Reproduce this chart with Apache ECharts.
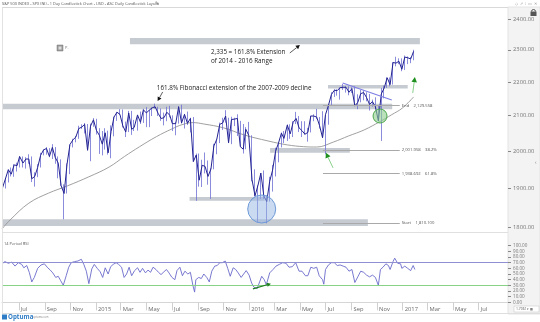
<!DOCTYPE html>
<html>
<head>
<meta charset="utf-8">
<script src="https://cdn.jsdelivr.net/npm/echarts@6/dist/echarts.min.js"></script>
<style>
  html, body { margin: 0; padding: 0; background: #fff; }
  #chart { width: 540px; height: 322px; }
</style>
</head>
<body>
<div id="chart"></div>
<script>
// ---- S&P 500 weekly bars (Friday of each week): [open, close, low, high] ----
const weekDates = [
  // 2014
  '2014-05-23','2014-05-30','2014-06-06','2014-06-13','2014-06-20','2014-06-27','2014-07-03','2014-07-11',
  '2014-07-18','2014-07-25','2014-08-01','2014-08-08','2014-08-15','2014-08-22','2014-08-29','2014-09-05',
  '2014-09-12','2014-09-19','2014-09-26','2014-10-03','2014-10-10','2014-10-17','2014-10-24','2014-10-31',
  '2014-11-07','2014-11-14','2014-11-21','2014-11-28','2014-12-05','2014-12-12','2014-12-19','2014-12-26',
  // 2015
  '2015-01-02','2015-01-09','2015-01-16','2015-01-23','2015-01-30','2015-02-06','2015-02-13','2015-02-20',
  '2015-02-27','2015-03-06','2015-03-13','2015-03-20','2015-03-27','2015-04-02','2015-04-10','2015-04-17',
  '2015-04-24','2015-05-01','2015-05-08','2015-05-15','2015-05-22','2015-05-29','2015-06-05','2015-06-12',
  '2015-06-19','2015-06-26','2015-07-02','2015-07-10','2015-07-17','2015-07-24','2015-07-31','2015-08-07',
  '2015-08-14','2015-08-21','2015-08-28','2015-09-04','2015-09-11','2015-09-18','2015-09-25','2015-10-02',
  '2015-10-09','2015-10-16','2015-10-23','2015-10-30','2015-11-06','2015-11-13','2015-11-20','2015-11-27',
  '2015-12-04','2015-12-11','2015-12-18','2015-12-24','2015-12-31',
  // 2016
  '2016-01-08','2016-01-15','2016-01-22','2016-01-29','2016-02-05','2016-02-12','2016-02-19','2016-02-26',
  '2016-03-04','2016-03-11','2016-03-18','2016-03-24','2016-04-01','2016-04-08','2016-04-15','2016-04-22',
  '2016-04-29','2016-05-06','2016-05-13','2016-05-20','2016-05-27','2016-06-03','2016-06-10','2016-06-17',
  '2016-06-24','2016-07-01','2016-07-08','2016-07-15','2016-07-22','2016-07-29','2016-08-05','2016-08-12',
  '2016-08-19','2016-08-26','2016-09-02','2016-09-09','2016-09-16','2016-09-23','2016-09-30','2016-10-07',
  '2016-10-14','2016-10-21','2016-10-28','2016-11-04','2016-11-11','2016-11-18','2016-11-25','2016-12-02',
  '2016-12-09','2016-12-16','2016-12-23','2016-12-30',
  // 2017
  '2017-01-06','2017-01-13','2017-01-20','2017-01-27'
];

const weeklyBars = [
  // 2014
  [1880,1900,1868,1901],[1900,1924,1899,1924],[1923,1949,1915,1950],[1950,1937,1931,1955],
  [1937,1962,1930,1964],[1962,1960,1944,1968],[1960,1985,1955,1985],[1985,1967,1955,1985],
  [1967,1978,1952,1983],[1978,1978,1965,1991],[1978,1925,1916,1985],[1925,1931,1904,1942],
  [1931,1955,1929,1964],[1955,1988,1955,1995],[1988,2003,1988,2005],[2003,2007,1990,2011],
  [2007,1985,1983,2008],[1985,2010,1978,2019],[2010,1982,1965,2011],[1982,1967,1926,1985],
  [1967,1906,1906,1977],[1906,1886,1820,1910],[1886,1964,1886,1966],[1964,2018,1937,2018],
  [2018,2031,2010,2034],[2031,2039,2024,2042],[2039,2063,2034,2071],[2063,2067,2062,2075],
  [2067,2075,2049,2079],[2075,2002,2002,2076],[2002,2070,1972,2077],[2070,2088,2068,2093],
  // 2015
  [2088,2058,2046,2091],[2058,2044,1992,2064],[2044,2019,1988,2056],[2019,2051,2004,2064],
  [2051,1995,1990,2057],[1995,2055,1980,2072],[2055,2096,2041,2097],[2096,2110,2085,2111],
  [2110,2104,2102,2119],[2104,2071,2066,2118],[2071,2053,2039,2083],[2053,2108,2053,2114],
  [2108,2061,2045,2114],[2061,2066,2056,2088],[2066,2102,2057,2103],[2102,2081,2076,2112],
  [2081,2117,2079,2120],[2117,2108,2067,2125],[2108,2116,2067,2117],[2116,2123,2099,2124],
  [2123,2126,2121,2135],[2126,2107,2099,2126],[2107,2092,2085,2121],[2092,2094,2072,2109],
  [2094,2110,2084,2126],[2110,2101,2095,2129],[2101,2077,2056,2101],[2077,2077,2044,2081],
  [2077,2126,2077,2128],[2126,2079,2077,2132],[2079,2104,2063,2105],[2104,2078,2073,2112],
  [2078,2092,2052,2094],[2092,1971,1971,2096],[1971,1989,1867,1993],[1989,1921,1904,1993],
  [1921,1961,1903,1976],[1961,1958,1939,1996],[1958,1931,1909,1974],[1931,1951,1872,1953],
  [1951,2014,1950,2020],[2014,2033,1991,2034],[2033,2075,2022,2080],[2075,2079,2059,2094],
  [2079,2099,2080,2116],[2099,2023,2022,2094],[2023,2089,2019,2097],[2089,2090,2070,2094],
  [2090,2092,2042,2104],[2092,2012,2011,2085],[2012,2005,1993,2076],[2005,2061,2005,2067],
  [2061,2044,2044,2082],
  // 2016
  [2044,1922,1918,2044],[1922,1880,1878,1950],[1880,1907,1812,1908],[1907,1940,1872,1940],
  [1940,1880,1872,1947],[1880,1865,1810,1881],[1865,1918,1865,1930],[1918,1948,1891,1962],
  [1948,1999,1931,2009],[1999,2022,1969,2022],[2022,2050,2010,2052],[2050,2035,2022,2056],
  [2035,2073,2028,2075],[2073,2048,2034,2075],[2048,2081,2039,2084],[2081,2092,2076,2111],
  [2092,2065,2053,2099],[2065,2057,2039,2084],[2057,2047,2045,2084],[2047,2052,2026,2065],
  [2052,2099,2052,2100],[2099,2099,2084,2104],[2099,2096,2090,2120],[2096,2071,2063,2096],
  [2071,2037,2037,2113],[2037,2103,1991,2104],[2103,2130,2074,2131],[2130,2162,2130,2169],
  [2162,2175,2155,2178],[2175,2174,2159,2178],[2174,2183,2147,2184],[2183,2184,2176,2194],
  [2184,2184,2168,2187],[2184,2169,2160,2187],[2169,2180,2167,2184],[2180,2128,2128,2187],
  [2128,2139,2119,2163],[2139,2165,2139,2176],[2165,2168,2145,2175],[2168,2153,2142,2169],
  [2153,2133,2115,2164],[2133,2141,2126,2147],[2141,2126,2119,2154],[2126,2085,2084,2131],
  [2085,2164,2028,2182],[2164,2182,2151,2189],[2182,2213,2182,2214],[2213,2192,2187,2214],
  [2192,2260,2192,2261],[2260,2258,2248,2278],[2258,2264,2255,2273],[2264,2239,2233,2273],
  // 2017
  [2239,2277,2237,2282],[2277,2275,2255,2279],[2275,2271,2258,2277],[2271,2295,2267,2300]
];

// ---- 200-day moving average ----
const maDates = ['2014-05-22','2014-06-10','2014-07-25','2014-09-10','2014-10-25','2014-12-15','2015-02-01',
  '2015-03-10','2015-04-15','2015-05-25','2015-07-01','2015-07-25','2015-08-20','2015-09-15','2015-11-01',
  '2015-12-20','2016-02-15','2016-04-01','2016-05-10','2016-06-10','2016-07-20','2016-08-25','2016-10-01',
  '2016-11-08','2016-12-06','2016-12-31','2017-01-27'];
const maValues = [1796,1818,1861,1887,1906,1930,1956,1985,2012,2040,2062,2074,2080,2076,2065,2045,2028,
  2017,2012,2011,2025,2042,2059,2083,2103,2122,2155];

// ---- 14 period RSI ----
const rsiDates = ['2014-05-22','2014-05-29','2014-06-06','2014-06-14','2014-06-22','2014-06-30','2014-07-08',
  '2014-07-13','2014-07-20','2014-07-26','2014-08-01','2014-08-07','2014-08-15','2014-08-23','2014-08-31',
  '2014-09-08','2014-09-14','2014-09-20','2014-09-27','2014-10-03','2014-10-09','2014-10-15','2014-10-22',
  '2014-10-28','2014-11-03','2014-11-11','2014-11-19','2014-11-27','2014-12-03','2014-12-09','2014-12-15',
  '2014-12-22','2014-12-28','2015-01-04','2015-01-11','2015-01-17','2015-01-23','2015-01-30','2015-02-05',
  '2015-02-11','2015-02-18','2015-02-24','2015-03-03','2015-03-09','2015-03-15','2015-03-21','2015-03-27',
  '2015-04-03','2015-04-10','2015-04-16','2015-04-22','2015-04-29','2015-05-05','2015-05-11','2015-05-17',
  '2015-05-24','2015-05-30','2015-06-05','2015-06-12','2015-06-18','2015-06-24','2015-07-01','2015-07-08',
  '2015-07-13','2015-07-20','2015-07-26','2015-08-01','2015-08-08','2015-08-14','2015-08-20','2015-08-24',
  '2015-08-27','2015-09-03','2015-09-09','2015-09-15','2015-09-22','2015-09-28','2015-10-04','2015-10-11',
  '2015-10-17','2015-10-23','2015-10-29','2015-11-05','2015-11-11','2015-11-17','2015-11-24','2015-11-30',
  '2015-12-06','2015-12-13','2015-12-19','2015-12-25','2016-01-01','2016-01-07','2016-01-12','2016-01-20',
  '2016-01-26','2016-01-31','2016-02-06','2016-02-11','2016-02-19','2016-02-27','2016-03-05','2016-03-13',
  '2016-03-21','2016-03-29','2016-04-05','2016-04-13','2016-04-21','2016-04-29','2016-05-06','2016-05-14',
  '2016-05-20','2016-05-27','2016-06-03','2016-06-10','2016-06-16','2016-06-24','2016-06-27','2016-07-01',
  '2016-07-08','2016-07-15','2016-07-22','2016-07-29','2016-08-05','2016-08-12','2016-08-19','2016-08-26',
  '2016-09-02','2016-09-09','2016-09-16','2016-09-23','2016-09-30','2016-10-07','2016-10-14','2016-10-21',
  '2016-10-28','2016-11-04','2016-11-09','2016-11-15','2016-11-22','2016-11-28','2016-12-02','2016-12-09',
  '2016-12-13','2016-12-20','2016-12-27','2016-12-30','2017-01-06','2017-01-13','2017-01-20','2017-01-26',
  '2017-01-30'];
const rsiValues = [68,72,69,71,64,70,67,61,65,53,36,44,60,66,68,61,57,52,44,46,38,30,47,62,70,72,73,76,67,55,33,
  59,67,60,54,44,61,50,63,67,70,67,62,44,50,62,47,56,61,53,60,52,57,53,62,58,53,49,54,58,52,44,40,56,62,47,55,
  50,53,30,18,40,44,42,50,44,36,55,64,65,70,70,73,60,46,61,58,52,44,50,56,48,34,27,24,36,46,40,31,52,58,64,67,
  70,69,62,63,70,55,55,47,47,62,60,62,47,40,32,58,66,70,70,65,66,64,62,55,58,35,45,55,53,48,45,48,44,30,58,62,
  68,65,58,72,78,69,68,60,64,60,56,65,58];
const rsiLevels = [70, 30];

// ---- axis ticks ----
const priceTicks = [1800, 1900, 2000, 2100, 2200, 2300, 2400];
const rsiTicks = [0, 10, 20, 30, 40, 50, 60, 70, 80, 90, 100];
const xTickDates = ['2014-07-01','2014-09-01','2014-11-01','2015-01-01','2015-03-01','2015-05-01','2015-07-01',
  '2015-09-01','2015-11-01','2016-01-01','2016-03-01','2016-05-01','2016-07-01','2016-09-01','2016-11-01',
  '2017-01-01','2017-03-01','2017-05-01','2017-07-01'];
const xTickLabels = ['Jul','Sep','Nov','2015','Mar','May','Jul','Sep','Nov','2016','Mar','May','Jul','Sep','Nov',
  '2017','Mar','May','Jul'];

// ---- support / resistance zones: [from, to, low, high] ----
const zoneFrom = ['2015-03-23','2014-05-22','2016-07-07','2016-02-20','2015-08-12','2014-05-22'];
const zoneTo   = ['2017-02-11','2016-12-07','2017-01-13','2016-08-28','2016-02-07','2016-10-10'];
const zoneLow  = [2318, 2119, 2180, 1995, 1867, 1803];
const zoneHigh = [2338, 2135, 2191, 2008, 1877, 1820];

// ---- Fibonacci levels ----
const fibValues = [2129.558, 2001.958, 1938.692, 1810.100];
const fibNames  = ['End', '2,001.958', '1,938.692', 'Start'];
const fibTags   = ['2,129.558', '38.2%', '61.8%', '1,810.100'];
const fibFrom = '2016-06-25', fibTo = '2016-12-25';

// ---- 2016 down-trend line ----
const trendDates = ['2016-08-11', '2016-12-06'];
const trendValues = [2197, 2146];

const X_START = '2014-05-22', X_END = '2017-09-09';
const FONT = '"Open Sans", "Noto Sans", sans-serif';

// dates become UTC timestamps on a plain value axis
const ts = s => Date.parse(s + 'T00:00:00Z');
const tickTimes = xTickDates.map(ts);

const candles = weekDates.map((d, i) => [ts(d)].concat(weeklyBars[i]));
const closes = weekDates.map((d, i) => [ts(d), weeklyBars[i][1]]);
const ma = maDates.map((d, i) => [ts(d), maValues[i]]);
const rsi = rsiDates.map((d, i) => [ts(d), rsiValues[i]]);

const chart = echarts.init(document.getElementById('chart'));

const option = {
  animation: false,
  textStyle: { fontFamily: FONT },
  grid: [
    { left: 2, right: 32, top: 8, height: 222 },
    { left: 2, right: 32, top: 236, height: 66.3 }
  ],
  xAxis: [
    { type: 'value', gridIndex: 0, min: ts(X_START), max: ts(X_END), scale: true,
      axisLine: { show: false }, axisTick: { show: false }, axisLabel: { show: false }, splitLine: { show: false } },
    { type: 'value', gridIndex: 1, min: ts(X_START), max: ts(X_END), scale: true,
      axisLine: { show: true, onZero: false, lineStyle: { color: '#d6d6d6', width: 1 } },
      axisTick: { show: true, customValues: tickTimes, length: 8, lineStyle: { color: '#d0d0d0' } },
      axisLabel: { customValues: tickTimes, align: 'left', margin: 4, padding: [0, 0, 0, 2],
        color: '#6a6a6a', fontSize: 5.8, fontFamily: FONT,
        formatter: v => { const k = tickTimes.indexOf(+v); return k >= 0 ? xTickLabels[k] : ''; } },
      splitLine: { show: false } }
  ],
  yAxis: [
    { type: 'log', logBase: 10, gridIndex: 0, position: 'right', min: 1793.3, max: 2436.7,
      axisLine: { show: false },
      axisTick: { show: true, customValues: priceTicks, length: 3, lineStyle: { color: '#888' } },
      axisLabel: { customValues: priceTicks, margin: 5, color: '#777', fontSize: 5.8, fontFamily: FONT,
        formatter: v => Number(v).toFixed(2) },
      splitLine: { show: false } },
    { type: 'value', gridIndex: 1, position: 'right', min: 0, max: 117.2,
      axisLine: { show: false },
      axisTick: { show: true, customValues: rsiTicks, length: 3, lineStyle: { color: '#888' } },
      axisLabel: { customValues: rsiTicks, margin: 5, color: '#777', fontSize: 4.6, fontFamily: FONT,
        formatter: v => Number(v).toFixed(2) },
      splitLine: { show: false } }
  ],
  series: [
    {
      name: 'SPX', type: 'candlestick', xAxisIndex: 0, yAxisIndex: 0, data: candles,
      barWidth: 1.2,
      itemStyle: { color: '#6f6fd4', color0: '#6f6fd4', borderColor: '#6f6fd4', borderColor0: '#6f6fd4', borderWidth: 0.8 },
      markArea: {
        silent: true,
        itemStyle: { color: '#c6cbd2' },
        data: zoneFrom.map((f, i) => [
          { coord: [ts(f), zoneLow[i]] },
          { coord: [ts(zoneTo[i]), zoneHigh[i]] }
        ])
      },
      markLine: {
        silent: true, symbol: ['none', 'none'],
        lineStyle: { color: '#a9a9a9', width: 1, type: 'solid' },
        label: { show: true, position: 'end', distance: 2, color: '#555', fontSize: 4.2, fontFamily: FONT },
        data: fibValues.map((v, i) => [
          { coord: [ts(fibFrom), v],
            label: { formatter: fibNames[i] + '    ' + fibTags[i] } },
          { coord: [ts(fibTo), v] }
        ]).concat([[
          { coord: [ts(trendDates[0]), trendValues[0]], lineStyle: { color: '#7d7de4', width: 1.1 }, label: { show: false } },
          { coord: [ts(trendDates[1]), trendValues[1]] }
        ]])
      }
    },
    {
      name: 'Close', type: 'line', xAxisIndex: 0, yAxisIndex: 0, data: closes,
      showSymbol: false, lineStyle: { color: '#23238f', width: 1 }, z: 3
    },
    {
      name: 'MA200', type: 'line', xAxisIndex: 0, yAxisIndex: 0, data: ma, smooth: 0.4,
      showSymbol: false, lineStyle: { color: '#959595', width: 0.9 }, z: 2
    },
    {
      name: 'RSI', type: 'line', xAxisIndex: 1, yAxisIndex: 1, data: rsi,
      showSymbol: false, lineStyle: { color: '#6a6acb', width: 0.9 },
      markLine: {
        silent: true, symbol: ['none', 'none'], label: { show: false },
        data: [
          { yAxis: rsiLevels[0], lineStyle: { color: '#8f8fd2', width: 1, type: 'solid' } },
          { yAxis: rsiLevels[1], lineStyle: { color: '#86d286', width: 1, type: 'solid' } }
        ]
      }
    }
  ]
};

chart.setOption(option);

// ---- annotations placed in data space ----
const P = (d, v) => chart.convertToPixel({ xAxisIndex: 0, yAxisIndex: 0 }, [ts(d), v]);
const R = (d, v) => chart.convertToPixel({ xAxisIndex: 1, yAxisIndex: 1 }, [ts(d), v]);

function arrow(p1, p2, lineColor, headColor, lw, head) {
  const dx = p2[0] - p1[0], dy = p2[1] - p1[1];
  const L = Math.hypot(dx, dy), ux = dx / L, uy = dy / L;
  const bx = p2[0] - ux * head, by = p2[1] - uy * head;
  const px = -uy * head * 0.55, py = ux * head * 0.55;
  return [
    { type: 'line', z: 100, shape: { x1: p1[0], y1: p1[1], x2: bx, y2: by }, style: { stroke: lineColor, lineWidth: lw } },
    { type: 'polygon', z: 100, shape: { points: [[p2[0], p2[1]], [bx + px, by + py], [bx - px, by - py]] }, style: { fill: headColor } }
  ];
}

function text(x, y, str, size, color, align, weight) {
  return { type: 'text', z: 100, x: x, y: y,
    style: { text: str, fontSize: size, fill: color, fontFamily: FONT, fontWeight: weight || 'normal',
      verticalAlign: 'middle', align: align || 'left' } };
}

const blueC = P('2016-01-31', 1846);
const greenC = P('2016-11-08', 2099);
const t1 = P('2015-10-02', 2293);
const t2 = P('2015-10-02', 2265);
const t3 = P('2015-05-26', 2180);

const elements = [
  // chrome: right axis strip and panel frames
  { type: 'rect', z: -10, shape: { x: 508, y: 7, width: 32, height: 307 }, style: { fill: '#f3f3f3', stroke: '#dedede', lineWidth: 0.8 } },
  { type: 'line', z: 50, shape: { x1: 2, y1: 7.5, x2: 508, y2: 7.5 }, style: { stroke: '#d9d9d9', lineWidth: 1 } },
  { type: 'line', z: 50, shape: { x1: 2.5, y1: 7.5, x2: 2.5, y2: 313 }, style: { stroke: '#e2e2e2', lineWidth: 1 } },
  { type: 'line', z: 50, shape: { x1: 2, y1: 232.5, x2: 508, y2: 232.5 }, style: { stroke: '#e0e0e0', lineWidth: 1 } },
  { type: 'line', z: 50, shape: { x1: 2, y1: 313.5, x2: 540, y2: 313.5 }, style: { stroke: '#dedede', lineWidth: 1 } },

  text(2, 3.8, 'S&P 500 INDEX - SPX (NI) - 1 Day Candlestick Chart - USD - ASC Daily Candlestick Layout', 3.9, '#555'),
  text(155, 3.6, '✎', 4.5, '#666'),
  text(537, 3.6, '◇  ⇗  ⁞  ▭  ✕', 3.9, '#999', 'right'),

  // lock icon
  { type: 'rect', z: 100, shape: { x: 530.5, y: 11.5, width: 6, height: 4.5 }, style: { fill: '#555' } },
  { type: 'arc', z: 100, shape: { cx: 533.5, cy: 11.5, r: 2, startAngle: Math.PI, endAngle: 2 * Math.PI }, style: { stroke: '#555', lineWidth: 1, fill: 'none' } },
  text(535, 163, '‹', 5, '#777'),

  // small tool icon
  { type: 'rect', z: 100, shape: { x: 57, y: 45, width: 6, height: 6 }, style: { fill: '#9a9a9a', stroke: '#777', lineWidth: 0.5 } },
  { type: 'rect', z: 100, shape: { x: 58.5, y: 46.5, width: 3, height: 3 }, style: { fill: '#dcdcdc' } },
  text(65, 48, 'P.', 4, '#777'),

  // RSI panel title
  text(4, 243.5, '14 Period RSI', 4, '#555'),

  // bottom right scale box
  { type: 'rect', z: 100, shape: { x: 514, y: 306, width: 25, height: 6 }, style: { fill: '#fff', stroke: '#cfcfcf', lineWidth: 0.6 } },
  text(516, 309, '1.7061 ▾ ▦', 3.4, '#555'),

  // logo
  { type: 'rect', z: 100, shape: { x: 2, y: 314.5, width: 5, height: 5 }, style: { fill: '#2f7cc6' } },
  text(8, 317.3, 'Optuma', 6.2, '#2f7cc6', 'left', 'bold'),
  text(33, 317.3, 'optuma.com', 2.6, '#888'),

  // highlight circles
  { type: 'circle', z: 95, shape: { cx: blueC[0], cy: blueC[1], r: 14 }, style: { fill: 'rgba(150,182,228,0.5)', stroke: '#6e9ad6', lineWidth: 1 } },
  { type: 'circle', z: 95, shape: { cx: greenC[0], cy: greenC[1], r: 7 }, style: { fill: 'rgba(140,205,140,0.6)', stroke: '#4ca64c', lineWidth: 1 } },

  // annotation texts
  text(t1[0], t1[1], '2,335 = 161.8% Extension', 6.3, '#222'),
  text(t2[0], t2[1], 'of 2014 - 2016 Range', 6.3, '#222'),
  text(t3[0], t3[1], '161.8% Fibonacci extension of the 2007-2009 decline', 6.3, '#222')
]
  .concat(arrow(P('2016-04-07', 2290), P('2016-05-01', 2315), '#333', '#111', 0.8, 4))
  .concat(arrow(P('2015-06-09', 2170), P('2015-05-28', 2143), '#333', '#111', 0.8, 4))
  .concat(arrow(P('2016-07-19', 1954), P('2016-07-02', 1995), '#6cc36c', '#1f8f1f', 0.8, 5))
  .concat(arrow(P('2017-01-25', 2167), P('2017-01-30', 2215), '#6cc36c', '#1f8f1f', 0.8, 5))
  .concat(arrow(R('2016-01-10', 23.6), R('2016-02-22', 33), '#1f7f1f', '#1f7f1f', 1.2, 4));

chart.setOption({ graphic: { elements: elements } });
</script>
</body>
</html>
